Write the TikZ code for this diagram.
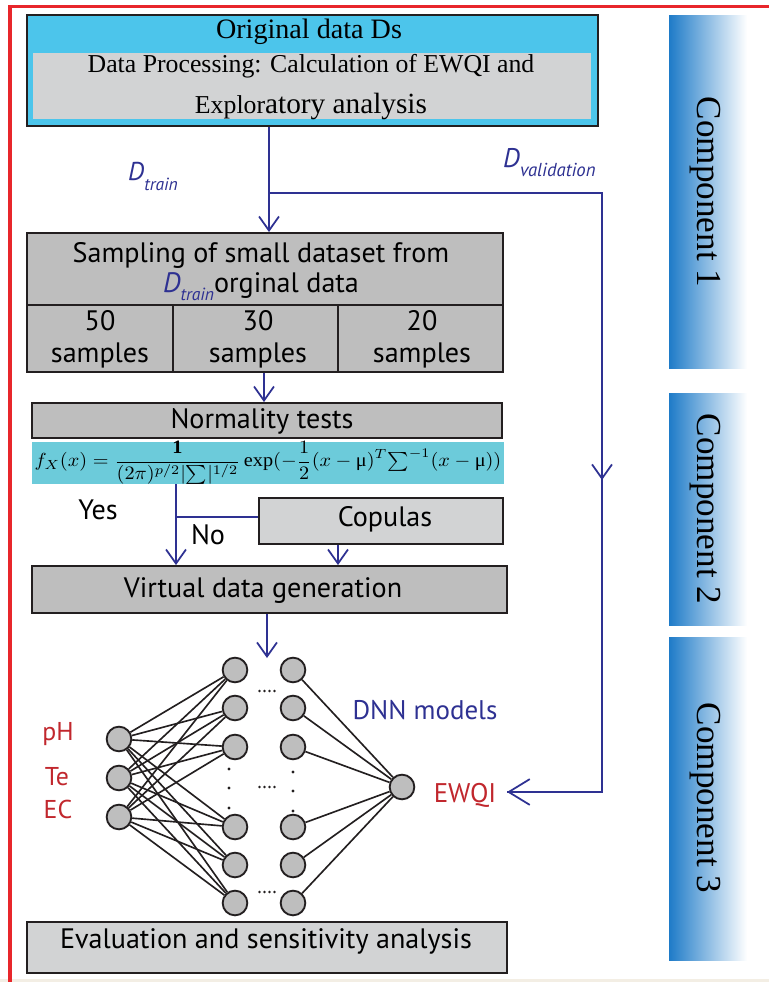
\documentclass[tikz,border=0pt]{standalone}
\usepackage{fontspec}
\usepackage{amsmath}
\usepackage{graphicx}
\setmainfont{Liberation Serif}
\setsansfont{PT Sans}
\usetikzlibrary{arrows.meta}
\definecolor{abl}{HTML}{2E3192}
\definecolor{cyanA}{HTML}{4CC5EB}
\definecolor{cyanB}{HTML}{6CCBDA}
\definecolor{gbox}{HTML}{BEBEBE}
\definecolor{glight}{HTML}{D2D3D4}
\definecolor{lnk}{HTML}{231F20}
\definecolor{redT}{HTML}{C1272D}
\definecolor{compb}{HTML}{1E7BC8}
\definecolor{frameR}{HTML}{E8262B}
\definecolor{beige}{HTML}{F3EEE4}
\begin{document}
\begin{tikzpicture}[x=0.03cm,y=-0.03cm,
  box/.style={draw=lnk, line width=1.6pt, inner sep=0pt},
  sf/.style={font=\sffamily\fontsize{24}{27}\selectfont, inner sep=0pt, anchor=base},
  arr/.style={draw=abl, line width=1.5pt, -{Straight Barb[length=12pt,width=17pt]}},
  bline/.style={draw=abl, line width=1.5pt},
  neu/.style={circle, draw=lnk, fill=gbox, line width=1.6pt, minimum size=0.74cm, inner sep=0pt},
  nedge/.style={draw=lnk, line width=1.4pt},
  comptext/.style={font=\rmfamily\fontsize{30}{30}\selectfont, rotate=-90, inner sep=0pt}
]
\useasboundingbox (0,0) rectangle (769,982);
\fill[white] (0,0) rectangle (769,982);
\fill[beige] (0,979) rectangle (769,982);
\draw[frameR, line width=3pt] (10,982) -- (10,6.5) -- (769,6.5);

% ---- top box
\node[box, fill=cyanA, minimum width=17.13cm, minimum height=3.33cm] (top) at (312.5,70.5) {};
\node[fill=glight, inner sep=0pt, minimum width=16.74cm, minimum height=1.98cm] (topin) at (312,86) {};
\node[font=\rmfamily\fontsize{24}{24}\selectfont, inner sep=0pt, anchor=base] (t1) at (309,39) {Original data Ds};
\node[font=\rmfamily\fontsize{22}{22}\selectfont, inner sep=0pt, anchor=base] (t2) at (311,72) {Data Processing: Calculation of EWQI and};
\node[font=\rmfamily\fontsize{22}{22}\selectfont, inner sep=0pt, anchor=base] (t3) at (311,113) {Explor{\fontsize{25}{25}\selectfont atory analysis}};

% ---- D labels
\node[inner sep=0pt, anchor=base west, text=abl] (dtr) at (128,180)
  {\sffamily\itshape{\fontsize{22}{22}\selectfont D}\raisebox{-9pt}{\fontsize{15}{15}\selectfont train}};
\node[inner sep=0pt, anchor=base west, text=abl] (dval) at (503,167)
  {\sffamily\itshape{\fontsize{23}{23}\selectfont D}\raisebox{-8.5pt}{\fontsize{16}{16}\selectfont validation}};

% ---- sampling box
\node[box, fill=gbox, minimum width=14.28cm, minimum height=4.17cm] (samp) at (265,302.5) {};
\draw[lnk, line width=1.6pt] (samp.west |- 0,305) -- (samp.east |- 0,305);
\draw[lnk, line width=1.6pt] (173,305) -- (samp.south -| 173,0);
\draw[lnk, line width=1.6pt] (338,305) -- (samp.south -| 338,0);
\node[sf] (s1) at (261,262) {Sampling of small dataset from};
\node[sf] (s2) at (261,292) {{\color{abl}\itshape{\fontsize{24}{24}\selectfont D}\raisebox{-7pt}{\fontsize{15}{15}\selectfont train}}orginal data};
\node[sf] (n50) at (100,330) {50};
\node[sf] (n30) at (258,330) {30};
\node[sf] (n20) at (422,330) {20};
\node[sf] (sa1) at (100,362) {samples};
\node[sf] (sa2) at (258,362) {samples};
\node[sf] (sa3) at (422,362) {samples};

% ---- normality + formula
\node[box, fill=gbox, minimum width=14.1cm, minimum height=1.05cm] (norm) at (267,420.5) {};
\node[sf] (normt) at (262,428) {Normality tests};
\node[fill=cyanB, inner sep=0pt, minimum width=14.16cm, minimum height=1.26cm] (form) at (268,463) {};
\node[inner sep=0pt] (formt) at (268,463) {\resizebox*{14.0cm}{1.3cm}{$\displaystyle f_X(x)=\frac{\mathbf{1}}{(2\pi)^{p/2}|{\textstyle\sum}|^{1/2}}\exp(-\frac{1}{2}(x-\mbox{μ})^T{\textstyle\sum}^{-1}(x-\mbox{μ}))$}};

% ---- copulas and virtual
\node[box, fill=glight, minimum width=7.32cm, minimum height=1.38cm] (cop) at (381,521) {};
\node[sf] (copt) at (385,526) {Copulas};
\node[box, fill=gbox, minimum width=14.25cm, minimum height=1.41cm] (virt) at (269.5,589.5) {};
\node[sf] (virtt) at (263,597) {Virtual data generation};
\node[sf] (yes) at (98,519) {Yes};
\node[sf] (no) at (208,544) {No};

% ---- evaluation
\node[box, fill=glight, minimum width=14.4cm, minimum height=1.53cm] (eval) at (267,947.5) {};
\node[sf] (evalt) at (266,948) {Evaluation and sensitivity analysis};

% ---- component bars
\shade[left color=compb, right color=white] (669,16) rectangle (747,368);
\shade[left color=compb, right color=white] (669,393) rectangle (747,625);
\shade[left color=compb, right color=white] (669,637) rectangle (747,960);
\node[comptext] (c1) at (705,192) {Component 1};
\node[comptext] (c2) at (705,509) {Component 2};
\node[comptext] (c3) at (705,798) {Component 3};

% ---- neural network
\foreach \i/\y in {1/739,2/778,3/817} \node[neu] (in\i) at (119,\y) {};
\foreach \i/\y in {1/670,2/708,3/747,4/827,5/865,6/903} {
  \node[neu] (ha\i) at (235,\y) {};
  \node[neu] (hb\i) at (293,\y) {};
}
\node[neu] (out) at (402,787) {};
\foreach \i in {1,2,3} \foreach \j in {1,...,6} \draw[nedge] (in\i) -- (ha\j);
\foreach \j in {1,...,6} \draw[nedge] (hb\j) -- (out);
\foreach \y in {691,787,892} \foreach \k in {-1.5,-0.5,0.5,1.5} \fill[lnk] (267+\k*5,\y) circle (1.1pt);
\foreach \y in {769,788,808} {\fill[lnk] (229,\y) circle (1.3pt); \fill[lnk] (293,\y+3) circle (1.3pt);}

\node[sf, text=redT, font=\sffamily\fontsize{22}{22}\selectfont] (ph) at (58,740) {pH};
\node[sf, text=redT, font=\sffamily\fontsize{22}{22}\selectfont] (te) at (57,785) {Te};
\node[sf, text=redT, font=\sffamily\fontsize{22}{22}\selectfont] (ec) at (58,818) {EC};
\node[sf, text=abl, font=\sffamily\fontsize{23}{23}\selectfont] (dnn) at (425,719) {DNN models};
\node[sf, text=redT, font=\sffamily\fontsize{23}{23}\selectfont] (ewqi) at (465,802) {EWQI};

% ---- connectors
\coordinate (j) at (269,193);
\coordinate (vr) at (602,193);
\coordinate (vm) at (602,480);
\coordinate (ve) at (602,792);
\coordinate (et) at (507,792);
\draw[arr] (top.south -| j) -- (samp.north -| j);
\draw[bline] (j) -- (vr) -- (ve) -- (et);
\draw[arr] (vr) -- (vm);
\draw[draw=abl, line width=1.5pt, -{Straight Barb[length=18pt,width=22pt]}] (ve) -- (et);
\coordinate (sx) at (264,0);
\draw[arr] (samp.south -| sx) -- (norm.north -| sx);
\coordinate (ybr) at (176,517);
\draw[arr] (form.south -| ybr) -- (virt.north -| ybr);
\draw[bline] (ybr) -- (ybr -| cop.west);
\coordinate (cx) at (338,0);
\draw[arr] (cop.south -| cx) -- (virt.north -| cx);
\coordinate (nntop) at (267,658);
\draw[arr] (virt.south -| nntop) -- (nntop);
\end{tikzpicture}
\end{document}
